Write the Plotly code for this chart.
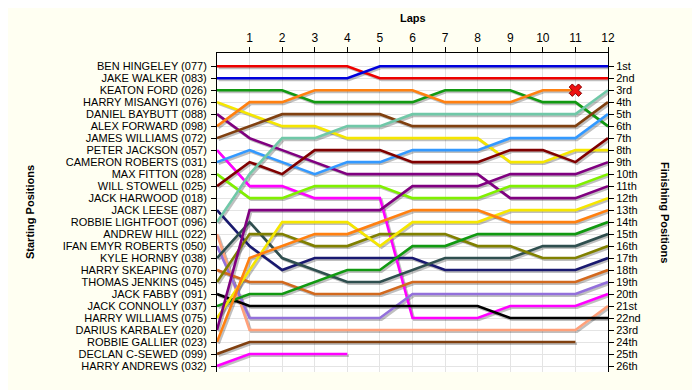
import plotly.graph_objects as go

laps = list(range(0, 13))
lap_labels = [str(i) for i in range(1, 13)]

drivers = [
    "BEN HINGELEY (077)", "JAKE WALKER (083)", "KEATON FORD (026)", "HARRY MISANGYI (076)",
    "DANIEL BAYBUTT (088)", "ALEX FORWARD (098)", "JAMES WILLIAMS (072)", "PETER JACKSON (057)",
    "CAMERON ROBERTS (031)", "MAX FITTON (028)", "WILL STOWELL (025)", "JACK HARWOOD (018)",
    "JACK LEESE (087)", "ROBBIE LIGHTFOOT (096)", "ANDREW HILL (022)", "IFAN EMYR ROBERTS (050)",
    "KYLE HORNBY (038)", "HARRY SKEAPING (070)", "THOMAS JENKINS (045)", "JACK FABBY (091)",
    "JACK CONNOLLY (037)", "HARRY WILLIAMS (075)", "DARIUS KARBALEY (020)", "ROBBIE GALLIER (023)",
    "DECLAN C-SEWED (099)", "HARRY ANDREWS (032)",
]
finish_labels = ["1st", "2nd", "3rd", "4th", "5th", "6th", "7th", "8th", "9th", "10th",
                 "11th", "12th", "13th", "14th", "15th", "16th", "17th", "18th", "19th", "20th",
                 "21st", "22nd", "23rd", "24th", "25th", "26th"]

# positions per lap (lap 0 = start)
ben_hingeley     = [1, 1, 1, 1, 1, 2, 2, 2, 2, 2, 2, 2, 2]
jake_walker      = [2, 2, 2, 2, 2, 1, 1, 1, 1, 1, 1, 1, 1]
keaton_ford      = [3, 3, 3, 4, 4, 4, 4, 3, 3, 3, 4, 4, 6]
harry_misangyi   = [4, 5, 6, 6, 7, 7, 7, 7, 7, 9, 9, 8, 8]
daniel_baybutt   = [5, 7, 8, 9, 10, 10, 10, 10, 10, 12, 12, 12, 11]
alex_forward     = [6, 4, 4, 3, 3, 3, 3, 4, 4, 4, 3, 3]
james_williams   = [7, 6, 5, 5, 5, 5, 6, 6, 6, 6, 6, 6, 4]
peter_jackson    = [8, 11, 11, 12, 12, 12, 22, 22, 22, 21, 21, 21, 20]
cameron_roberts  = [9, 8, 9, 10, 9, 9, 8, 8, 8, 7, 7, 7, 5]
max_fitton       = [10, 12, 12, 11, 11, 11, 12, 12, 12, 11, 11, 11, 10]
will_stowell     = [11, 9, 10, 8, 8, 8, 9, 9, 9, 8, 8, 9, 7]
jack_leese       = [13, 16, 18, 17, 17, 17, 17, 18, 18, 18, 18, 18, 17]
robbie_lightfoot = [14, 10, 7, 7, 6, 6, 5, 5, 5, 5, 5, 5, 3]
andrew_hill      = [15, 23, 23, 23, 23, 23, 23, 23, 23, 23, 23, 23, 21]
ifan_emyr        = [16, 22, 22, 22, 22, 22, 20, 20, 20, 20, 20, 20, 19]
kyle_hornby      = [17, 14, 17, 18, 19, 19, 18, 17, 17, 17, 16, 16, 15]
harry_skeaping   = [18, 19, 19, 20, 20, 20, 19, 19, 19, 19, 19, 19, 18]
thomas_jenkins   = [19, 15, 15, 16, 16, 15, 15, 15, 16, 16, 17, 17, 16]
jack_fabby       = [20, 21, 21, 21, 21, 21, 21, 21, 21, 22, 22, 22, 22]
jack_connolly    = [21, 20, 20, 19, 18, 18, 16, 16, 15, 15, 15, 15, 14]
harry_williams   = [22, 18, 14, 14, 14, 16, 14, 14, 14, 13, 13, 13, 12]
darius_karbaley  = [23, 13, 13, 13, 13, 13, 11, 11, 11, 10, 10, 10, 9]
robbie_gallier   = [24, 17, 16, 15, 15, 14, 13, 13, 13, 14, 14, 14, 13]
declan_c_sewed   = [25, 24, 24, 24, 24, 24, 24, 24, 24, 24, 24, 24]
harry_andrews    = [26, 25, 25, 25, 25]

series = [
    (ben_hingeley, "#ee0000"), (jake_walker, "#0000dd"), (keaton_ford, "#119911"),
    (harry_misangyi, "#f5e600"), (daniel_baybutt, "#800080"), (alex_forward, "#ff8010"),
    (james_williams, "#804010"), (peter_jackson, "#ff00ff"), (cameron_roberts, "#3399ff"),
    (max_fitton, "#80f000"), (will_stowell, "#800000"), (jack_leese, "#191970"),
    (robbie_lightfoot, "#70c8a8"), (andrew_hill, "#ffa07a"), (ifan_emyr, "#9370db"),
    (kyle_hornby, "#2f4f4f"), (harry_skeaping, "#d2691e"), (thomas_jenkins, "#808000"),
    (jack_fabby, "#000000"), (jack_connolly, "#119911"), (harry_williams, "#f5e600"),
    (darius_karbaley, "#800080"), (robbie_gallier, "#ff8010"), (declan_c_sewed, "#804010"),
    (harry_andrews, "#ff00ff"),
]
retired_lap = [11]
retired_pos = [3]

fig = go.Figure()
sdx, sdy = 0.05, 0.14
for pos, col in series:
    x = laps[:len(pos)]
    fig.add_trace(go.Scatter(x=[v + sdx for v in x], y=[p + sdy for p in pos], mode="lines",
                             line=dict(color="rgba(0,0,0,0.25)", width=2.6), hoverinfo="skip",
                             showlegend=False))
for pos, col in series:
    x = laps[:len(pos)]
    fig.add_trace(go.Scatter(x=x, y=pos, mode="lines", line=dict(color=col, width=2.6),
                             showlegend=False))
fig.add_trace(go.Scatter(x=retired_lap, y=retired_pos, mode="markers",
                         marker=dict(symbol="x", size=11, color="#ee1111",
                                     line=dict(color="#880000", width=1)),
                         showlegend=False))
fig.add_trace(go.Scatter(x=[0], y=[1], yaxis="y2", mode="markers", marker=dict(opacity=0),
                         showlegend=False, hoverinfo="skip"))

# page body has an 8px margin; compensate so the plot lands where the reference has it
OFF = 8
W, H = 700, 390
pl, pr, pt, pb = 217 - OFF, 92 + OFF, 53 - OFF, 18 + OFF
pw, ph = W - pl - pr, H - pt - pb

def px_x(x):
    return (x - OFF - pl) / pw

def px_y(y):
    return (H - pb - (y - OFF)) / ph

font = dict(family="Liberation Sans, Arial, sans-serif", size=11, color="black")
yr = [26.5, -0.1]
fig.update_layout(
    width=W, height=H,
    margin=dict(l=pl, r=pr, t=pt, b=pb, autoexpand=False),
    paper_bgcolor="#fffff2", plot_bgcolor="white",
    font=font,
    xaxis=dict(side="top", range=[0, 12], tickvals=list(range(1, 13)), ticktext=lap_labels,
               showline=True, linecolor="black", linewidth=1, ticks="outside", ticklen=5,
               tickcolor="black", showgrid=True, gridcolor="#e4e4e4", zeroline=False,
               tickfont=dict(size=12), automargin=False),
    yaxis=dict(range=yr, tickvals=list(range(1, 27)), ticktext=drivers, showline=True,
               linecolor="black", linewidth=1, ticks="outside", ticklen=5, tickcolor="black",
               showgrid=True, gridcolor="#e4e4e4", zeroline=False, ticklabelstandoff=2,
               automargin=False),
    yaxis2=dict(range=yr, overlaying="y", side="right", tickvals=list(range(1, 27)),
                ticktext=finish_labels, showline=True, linecolor="black", linewidth=1,
                ticks="outside", ticklen=5, tickcolor="black", showgrid=False, zeroline=False,
                automargin=False),
    annotations=[
        dict(text="<b>Laps</b>", x=px_x(413), y=px_y(18), xref="paper", yref="paper",
             xanchor="center", yanchor="middle", showarrow=False, font=dict(size=11)),
        dict(text="<b>Starting Positions</b>", x=px_x(30), y=px_y(212), xref="paper",
             yref="paper", xanchor="center", yanchor="middle", showarrow=False,
             textangle=-90, font=dict(size=11)),
        dict(text="<b>Finishing Positions</b>", x=px_x(665), y=px_y(212), xref="paper",
             yref="paper", xanchor="center", yanchor="middle", showarrow=False,
             textangle=90, font=dict(size=11)),
    ],
)
fig.write_html("out.html")
